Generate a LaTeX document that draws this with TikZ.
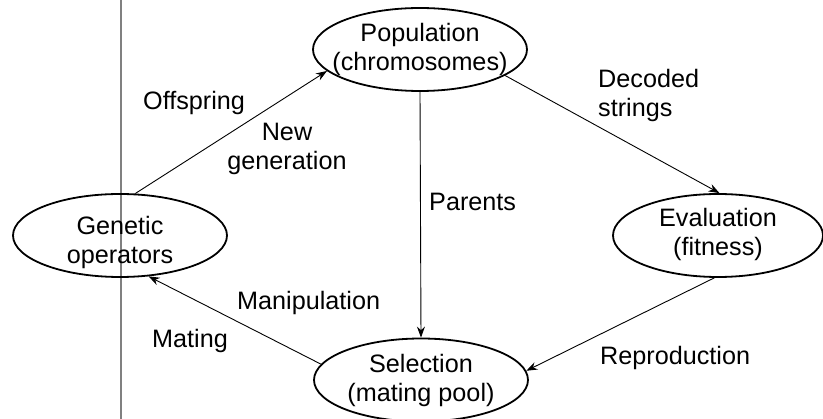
\documentclass[tikz,border=0pt]{standalone}
\usepackage{fontspec}
\setmainfont{Liberation Sans}
\usetikzlibrary{shapes.geometric,arrows.meta}
\begin{document}
\begin{tikzpicture}[x=1pt,y=-1pt,
  every node/.style={font=\fontsize{25.2}{29}\selectfont, inner sep=0pt},
  stage/.style={ellipse, draw, line width=1.8pt, minimum width=214pt, minimum height=83pt},
  flow/.style={line width=0.9pt, -{Stealth[length=11pt,width=8pt]}},
  lbl/.style={anchor=base west},
  txt/.style={align=center, inner sep=0pt}]
\useasboundingbox (0,0) rectangle (823,419);
\draw[line width=1.6pt, draw=black!50] (121,0) coordinate (vtop) -- (121,419) coordinate (vbot);
\node[stage, label={[txt]center:Population\\(chromosomes)}] (pop) at (420,49.5) {};
\node[stage, minimum width=210pt, label={[txt,yshift=1pt]center:Evaluation\\(fitness)}] (eval) at (718,235.5) {};
\node[stage, label={[txt,yshift=-6.5pt]center:Genetic\\operators}] (gen) at (120,235.5) {};
\node[stage, label={[txt]center:Selection\\(mating pool)}] (sel) at (421,380) {};
\draw[flow] (gen.70) -- (pop.193);
\draw[flow] (pop.-17) -- (eval.88);
\draw[flow] (pop.south) -- (sel.north);
\draw[flow] (eval.-95) -- (sel.5);
\draw[flow] (sel.171) -- (gen.-55);
\node[lbl] (offspring) at (143,110) {Offspring};
\node[txt] (newgen) at (287,148.6) {New\\generation};
\node[txt, align=left, anchor=west] (decoded) at (598,95.5) {Decoded\\strings};
\node[lbl] (parents) at (429,211) {Parents};
\node[lbl] (manip) at (237,310) {Manipulation};
\node[lbl] (mating) at (152,348) {Mating};
\node[lbl] (repro) at (600,365) {Reproduction};
\end{tikzpicture}
\end{document}
